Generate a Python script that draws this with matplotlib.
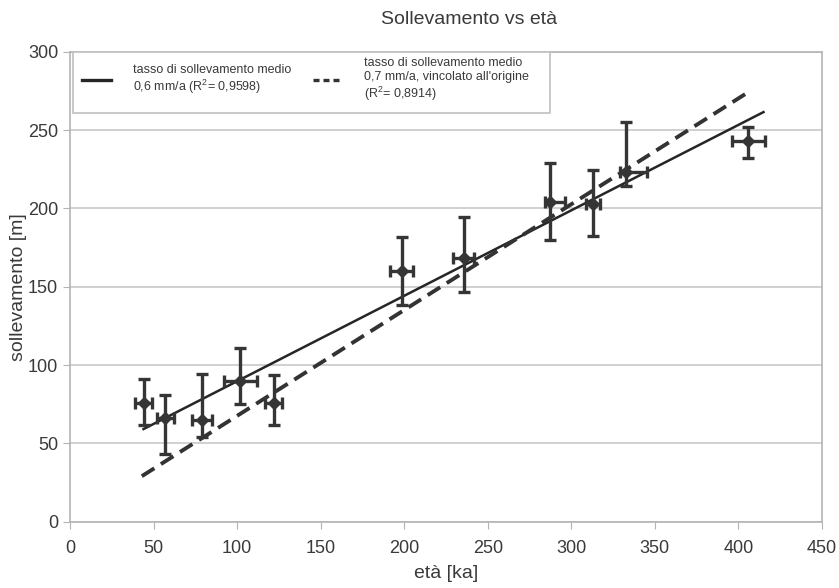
import numpy as np
import matplotlib.pyplot as plt
from matplotlib.patches import Rectangle
from matplotlib.lines import Line2D

plt.rcParams['font.family'] = ['Liberation Sans', 'DejaVu Sans']

# dated terraces: age (ka) and uplift (m) with their uncertainties
eta = [44, 57, 79, 102, 122, 198.5, 235.5, 287, 313, 333, 406]
sollevamento = [76, 66, 65, 90, 75.5, 160, 168.5, 204, 202.5, 223, 243]
eta_err_lo = [5, 5, 6, 10, 5, 7, 6, 3, 4, 4, 10]
eta_err_hi = [5, 5, 6, 10, 5, 7, 6, 9, 4, 12, 10]
soll_err_lo = [14, 23, 11, 15, 14, 22, 22, 24, 20, 9, 11]
soll_err_hi = [15, 15, 29, 21, 18, 22, 26, 25, 22, 32, 9]

legend_labels = [
    "tasso di sollevamento medio\n0,6 mm/a (R$^{\\mathregular{2}}$= 0,9598)",
    "tasso di sollevamento medio\n0,7 mm/a, vincolato all'origine\n(R$^{\\mathregular{2}}$= 0,8914)",
]

x = np.array(eta, dtype=float)
y = np.array(sollevamento, dtype=float)

# least squares fit, and fit forced through the origin
a, b = np.polyfit(x, y, 1)
k0 = np.sum(x * y) / np.sum(x * x)

fig = plt.figure(figsize=(8.39, 5.88), dpi=100)
ax = fig.add_axes([0.0834, 0.1128, 0.8963, 0.7993])

ax.set_xlim(0, 450)
ax.set_ylim(0, 300)
ax.set_xticks(range(0, 451, 50))
ax.set_yticks(range(0, 301, 50))
ax.yaxis.grid(True, color='#c8c8c8', lw=1.2)
ax.set_axisbelow(True)
for s in ax.spines.values():
    s.set_color('#b4b4b4')
    s.set_linewidth(1.2)
ax.tick_params(colors='#b4b4b4', labelcolor='#3a3a3a', labelsize=13, length=5)
ax.tick_params(axis='x', pad=8)

xs = np.array([x.min(), 415])
ax.plot(xs, a * xs + b, color='#262626', lw=1.8)
xd = np.array([x.min() - 1, x.max() + 1])
ax.plot(xd, k0 * xd, color='#333333', lw=2.8, dashes=(3.8, 2.0))

ax.errorbar(x, y, xerr=[eta_err_lo, eta_err_hi], yerr=[soll_err_lo, soll_err_hi],
            fmt='D', ms=6, color='#353535', ecolor='#353535', elinewidth=2.4,
            capsize=4.5, capthick=2.4, zorder=5)

# legend frame drawn by hand so it spans the top-left band
ax.add_patch(Rectangle((0.004, 0.870), 0.634, 0.129, transform=ax.transAxes,
                       fill=True, facecolor='white', edgecolor='#c0c0c0', lw=1.2, zorder=6))
handles = [Line2D([], [], color='#262626', lw=2.4),
           Line2D([], [], color='#333333', lw=2.4, dashes=(1.8, 1.2))]
leg = ax.legend(handles, legend_labels, ncol=2, loc='upper left',
                bbox_to_anchor=(-0.002, 1.017), frameon=False, fontsize=9,
                handlelength=2.3, handletextpad=1.8, columnspacing=1.7,
                labelspacing=0.2, borderpad=0.6)
leg.set_zorder(7)
for t in leg.get_texts():
    t.set_color('#3a3a3a')
    t.set_linespacing(1.15)

ax.set_xlabel('età [ka]', fontsize=14, color='#3a3a3a', labelpad=6)
ax.set_ylabel('sollevamento [m]', fontsize=14, color='#3a3a3a', labelpad=1)
fig.text(0.559, 0.966, 'Sollevamento vs età', ha='center', va='center',
         fontsize=14, color='#3a3a3a')

fig.savefig('out.png', dpi=100)
